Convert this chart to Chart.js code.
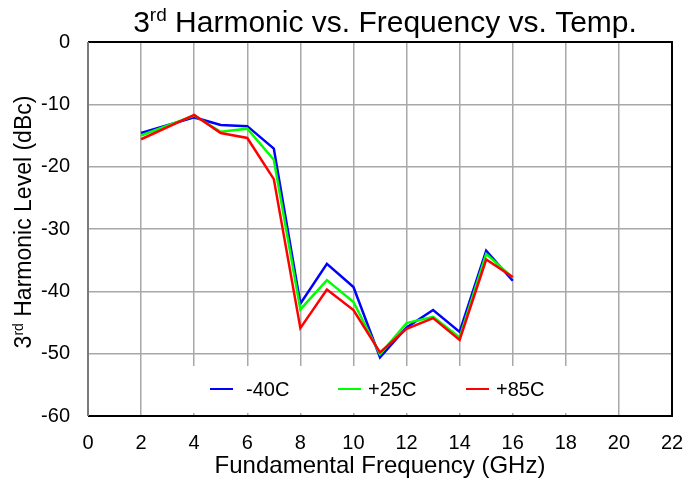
<!DOCTYPE html>
<html>
<head>
<meta charset="utf-8">
<script src="https://cdn.jsdelivr.net/npm/chart.js@4/dist/chart.umd.min.js"></script>
<style>
  html, body { margin: 0; padding: 0; background: #fff; }
  #wrap { width: 699px; height: 481px; position: relative; }
</style>
</head>
<body>
<div id="wrap"><canvas id="c" width="699" height="481"></canvas></div>
<script>
// Fundamental frequency (GHz) of each measured point
const freqGHz = [2, 4, 5, 6, 7, 8, 9, 10, 11, 12, 13, 14, 15, 16];

// 3rd harmonic level (dBc) at each temperature
const tempMinus40 = [-14.6, -12.1, -13.3, -13.5, -17.1, -42.0, -35.6, -39.3, -50.6, -45.8, -43.0, -46.5, -33.5, -38.3];
const tempPlus25  = [-15.0, -11.8, -14.4, -13.9, -18.9, -42.9, -38.2, -41.7, -50.1, -45.1, -44.1, -47.4, -34.0, -37.8];
const tempPlus85  = [-15.6, -11.7, -14.6, -15.4, -22.0, -45.9, -39.7, -43.0, -49.8, -46.0, -44.3, -47.8, -34.9, -37.7];

const seriesLabels = ['-40C', '+25C', '+85C'];
const seriesColors = ['#0000ff', '#00ff00', '#ff0000'];

// Axis ranges and tick steps
const xTicks = [0, 2, 4, 6, 8, 10, 12, 14, 16, 18, 20, 22];
const yTicks = [0, -10, -20, -30, -40, -50, -60];

const FONT = "'Liberation Sans', Arial, Helvetica, sans-serif";

function toPoints(ys) {
  return freqGHz.map((f, i) => ({ x: f, y: ys[i] }));
}

// Draw a run of text pieces, some raised as superscript, centred on (cx, cy)
function drawRichText(ctx, pieces, cx, cy, size) {
  const supSize = Math.round(size * 0.62);
  let total = 0;
  pieces.forEach(p => {
    ctx.font = (p.sup ? supSize : size) + 'px ' + FONT;
    p.w = ctx.measureText(p.t).width;
    total += p.w;
  });
  let x = cx - total / 2;
  ctx.textAlign = 'left';
  ctx.textBaseline = 'alphabetic';
  pieces.forEach(p => {
    ctx.font = (p.sup ? supSize : size) + 'px ' + FONT;
    ctx.fillText(p.t, x, p.sup ? cy - size * 0.36 : cy);
    x += p.w;
  });
}

const decorPlugin = {
  id: 'decor',
  beforeDatasetsDraw(chart) {
    const ctx = chart.ctx;
    // white panel behind the in-plot legend
    ctx.save();
    ctx.fillStyle = '#ffffff';
    ctx.fillRect(170, 366, 422, 47);
    ctx.restore();
  },
  afterDatasetsDraw(chart) {
    const ctx = chart.ctx;
    const a = chart.chartArea;
    ctx.save();

    // plot frame
    ctx.lineWidth = 2;
    ctx.strokeStyle = '#000000';
    ctx.beginPath();
    ctx.moveTo(a.left, a.top);
    ctx.lineTo(a.right, a.top);
    ctx.lineTo(a.right, a.bottom);
    ctx.lineTo(a.left, a.bottom);
    ctx.stroke();
    ctx.strokeStyle = '#7a7a7a';
    ctx.beginPath();
    ctx.moveTo(a.left, a.bottom);
    ctx.lineTo(a.left, a.top);
    ctx.stroke();

    // legend
    const legendX = [210, 338, 466];
    const legendY = 389;
    ctx.font = '20px ' + FONT;
    ctx.textBaseline = 'middle';
    ctx.textAlign = 'left';
    chart.data.datasets.forEach((ds, i) => {
      ctx.strokeStyle = ds.borderColor;
      ctx.lineWidth = 2;
      ctx.beginPath();
      ctx.moveTo(legendX[i], legendY);
      ctx.lineTo(legendX[i] + 23, legendY);
      ctx.stroke();
      ctx.fillStyle = '#000000';
      ctx.fillText(ds.label, legendX[i] + 36 - (i === 0 ? 0 : 6), legendY + 1);
    });

    // chart title
    ctx.fillStyle = '#000000';
    drawRichText(ctx, [
      { t: '3' }, { t: 'rd', sup: true }, { t: ' Harmonic vs. Frequency vs. Temp.' }
    ], 385, 32, 30);

    // x axis title
    ctx.font = '24px ' + FONT;
    ctx.textAlign = 'center';
    ctx.textBaseline = 'middle';
    ctx.fillText('Fundamental Frequency (GHz)', 380, 466);

    // y axis title
    ctx.translate(23, 222);
    ctx.rotate(-Math.PI / 2);
    drawRichText(ctx, [
      { t: '3' }, { t: 'rd', sup: true }, { t: ' Harmonic Level (dBc)' }
    ], 0, 8, 23);

    ctx.restore();
  }
};

new Chart(document.getElementById('c'), {
  type: 'line',
  data: {
    datasets: [
      { label: seriesLabels[0], data: toPoints(tempMinus40), borderColor: seriesColors[0], order: 2 },
      { label: seriesLabels[1], data: toPoints(tempPlus25),  borderColor: seriesColors[1], order: 1 },
      { label: seriesLabels[2], data: toPoints(tempPlus85),  borderColor: seriesColors[2], order: 0 }
    ].map(d => Object.assign(d, {
      borderWidth: 2.5,
      pointRadius: 0,
      fill: false,
      tension: 0
    }))
  },
  options: {
    responsive: false,
    animation: false,
    devicePixelRatio: 1,
    layout: { padding: { left: 0, top: 42, right: 27, bottom: 0 } },
    plugins: {
      legend: { display: false },
      title: { display: false },
      tooltip: { enabled: false }
    },
    scales: {
      x: {
        type: 'linear',
        min: xTicks[0],
        max: xTicks[xTicks.length - 1],
        afterBuildTicks(scale) { scale.ticks = xTicks.map(v => ({ value: v })); },
        afterFit(scale) { scale.height = 65; },
        grid: { color: '#a8a8a8', lineWidth: 1.5, drawTicks: false },
        border: { display: false },
        ticks: { color: '#000', font: { family: FONT, size: 20 }, padding: 15, maxRotation: 0 }
      },
      y: {
        type: 'linear',
        min: yTicks[yTicks.length - 1],
        max: yTicks[0],
        afterBuildTicks(scale) { scale.ticks = yTicks.slice().reverse().map(v => ({ value: v })); },
        afterFit(scale) { scale.width = 88; },
        grid: { color: '#a8a8a8', lineWidth: 1.5, drawTicks: false },
        border: { display: false },
        ticks: { color: '#000', font: { family: FONT, size: 20 }, padding: 18 }
      }
    }
  },
  plugins: [decorPlugin]
});
</script>
</body>
</html>
